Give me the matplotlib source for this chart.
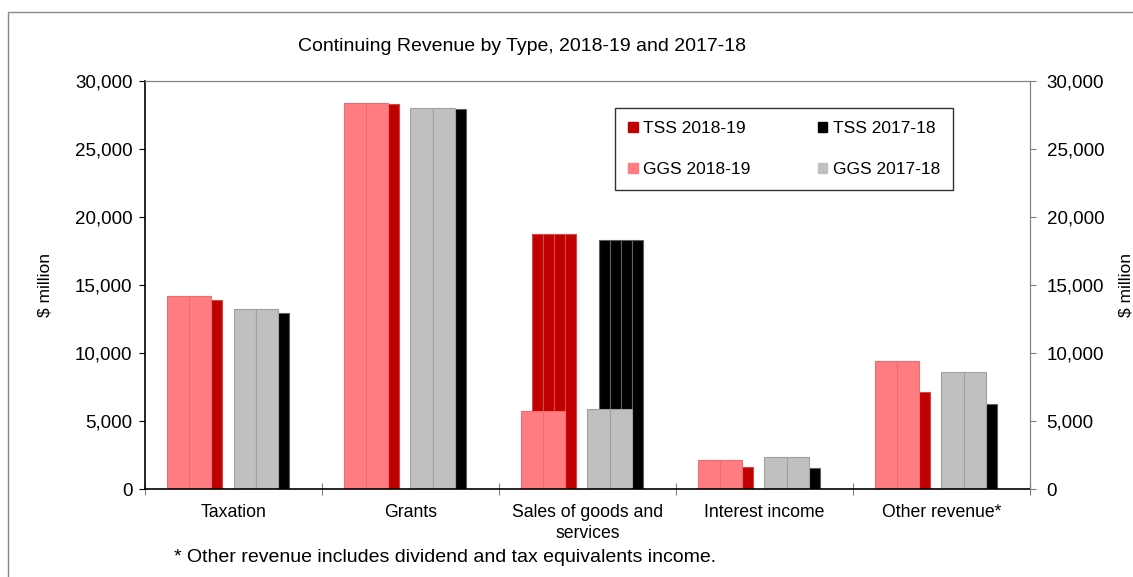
import numpy as np
import matplotlib
matplotlib.use('Agg')
import matplotlib.pyplot as plt
from matplotlib.patches import Rectangle

plt.rcParams['font.family'] = ['Liberation Sans', 'DejaVu Sans']

# ---------------------------------------------------------------------------
# Data ($ million)
# ---------------------------------------------------------------------------
categories = ['Taxation', 'Grants', 'Sales of goods and\nservices',
              'Interest income', 'Other revenue*']
tss_1819 = [13880, 28280, 18720, 1640, 7130]
ggs_1819 = [14170, 28350, 5770, 2140, 9380]
tss_1718 = [12950, 27930, 18330, 1520, 6240]
ggs_1718 = [13240, 27980, 5870, 2380, 8570]

# Colours
PINK = '#FF7C80'
RED = '#C00000'
GREY = '#C0C0C0'
BLACK = '#000000'

fig = plt.figure(figsize=(11.33, 5.77), dpi=100)
ax = fig.add_axes([0.128, 0.1525, 0.781, 0.7071])

n = len(categories)
u = 1.0 / 16  # width unit inside each category
x0 = np.arange(n)


def draw_bar(left, values, width, pieces, color, edge):
    sub = width / pieces
    for k in range(pieces):
        ax.bar(left + k * sub, values, width=sub, align='edge',
               color=color, edgecolor=edge, linewidth=0.8, zorder=2)


# TSS drawn first (behind), GGS in front, shifted one unit left
draw_bar(x0 + 3 * u, tss_1819, 4 * u, 4, RED, '#D04848')
draw_bar(x0 + 2 * u, ggs_1819, 4 * u, 2, PINK, '#F06A72')
draw_bar(x0 + 9 * u, tss_1718, 4 * u, 4, BLACK, '#606060')
draw_bar(x0 + 8 * u, ggs_1718, 4 * u, 2, GREY, '#A0A0A0')

ax.set_xlim(0, n)
ax.set_ylim(0, 30000)
yt = np.arange(0, 30001, 5000)
ax.set_yticks(yt)
ax.set_yticklabels([f'{v:,.0f}' for v in yt], fontsize=13.5)
ax.tick_params(axis='y', direction='out', length=4, width=0.8, pad=5)

ax.set_xticks(np.arange(n + 1))
ax.set_xticklabels([])
ax.tick_params(axis='x', which='major', direction='inout', length=8, width=0.8,
               color='#808080')
ax.set_xticks(x0 + 0.5, minor=True)
ax.set_xticklabels(categories, minor=True, fontsize=12.7, linespacing=1.25)
ax.tick_params(axis='x', which='minor', length=0, pad=11)

ax.spines['left'].set_color('black')
ax.spines['bottom'].set_color('black')
ax.spines['left'].set_linewidth(1.2)
ax.spines['bottom'].set_linewidth(1.2)
ax.spines['top'].set_color('#808080')
ax.spines['right'].set_color('#808080')

ax.set_ylabel('$ million', fontsize=12.5, labelpad=16)

# Secondary axis on the right with the same scale
ax2 = ax.twinx()
ax2.set_ylim(ax.get_ylim())
ax2.set_yticks(yt)
ax2.set_yticklabels([f'{v:,.0f}' for v in yt], fontsize=13.5)
ax2.tick_params(axis='y', direction='out', length=4, width=0.8, color='#808080', pad=8)
for s in ['left', 'bottom']:
    ax2.spines[s].set_visible(False)
ax2.spines['right'].set_color('#808080')
ax2.spines['top'].set_color('#808080')
ax2.set_ylabel('$ million', fontsize=12.5, labelpad=10)

fig.text(0.461, 0.92, 'Continuing Revenue by Type, 2018-19 and 2017-18',
         ha='center', va='center', fontsize=14)

# Legend
handles = [Rectangle((0, 0), 1, 1, color=RED), Rectangle((0, 0), 1, 1, color=PINK),
           Rectangle((0, 0), 1, 1, color=BLACK), Rectangle((0, 0), 1, 1, color=GREY)]
labels = ['TSS 2018-19', 'GGS 2018-19', 'TSS 2017-18', 'GGS 2017-18']
leg = fig.legend(handles, labels, ncol=2, loc='upper left',
                 bbox_to_anchor=(615 / 1133, 1 - 108 / 577), fontsize=12.5,
                 frameon=True, fancybox=False, edgecolor='black',
                 handlelength=0.55, handleheight=0.55, handletextpad=0.3,
                 columnspacing=3.9, labelspacing=1.5, borderpad=0.75,
                 borderaxespad=0)
leg.get_frame().set_linewidth(1.0)

fig.text(174 / 1133, 1 - 558 / 577,
         '* Other revenue includes dividend and tax equivalents income.',
         ha='left', va='center', fontsize=14)

# Outer frame of the chart area
fig.patches.append(Rectangle((8 / 1133, -0.1), 1.2, 1 - 12 / 577 + 0.1,
                             transform=fig.transFigure, fill=False,
                             edgecolor='#888888', linewidth=1.0))

fig.savefig('out.png', dpi=100, facecolor='white')
